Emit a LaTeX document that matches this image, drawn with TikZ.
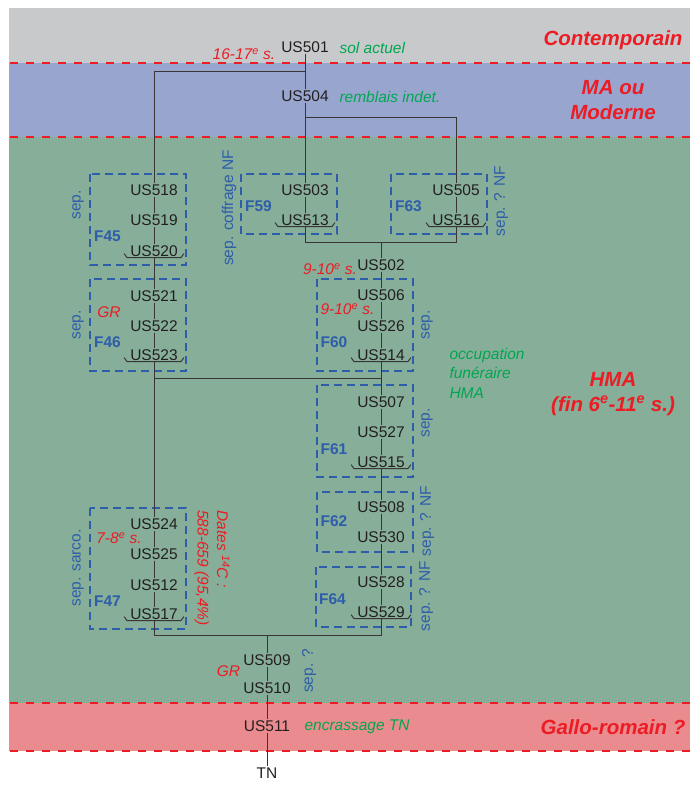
\documentclass[tikz,border=0pt]{standalone}
\usepackage{fontspec}
\setmainfont{Liberation Sans}
\usepackage{tikz}
\usetikzlibrary{positioning}
\definecolor{bandgrey}{HTML}{C8C9CB}
\definecolor{bandblue}{HTML}{98A6CF}
\definecolor{bandgreen}{HTML}{86AE99}
\definecolor{bandpink}{HTML}{EA8C8F}
\definecolor{datered}{HTML}{EC1C24}
\definecolor{notegreen}{HTML}{00A651}
\definecolor{sepblue}{HTML}{2E5DAA}
\definecolor{usblack}{HTML}{231F20}
\colorlet{linkgrey}{usblack!90}
\newcommand\txt{\fontsize{15.5}{19.5}\selectfont}
\newcommand\eratxt{\fontsize{20.5}{24.5}\selectfont}
% base of a filling, drawn under the last US of a fill
\newcommand\fondUS[1]{%
  \draw[link] ([xshift=-5pt,yshift=4pt]#1.south west) -- ([xshift=-2pt]#1.south west)
    -- ([xshift=2pt]#1.south east) -- ([xshift=5pt,yshift=4pt]#1.south east);}

\begin{document}
\begin{tikzpicture}[x=1pt, y=-1pt,
    us/.style={font=\txt, text=usblack, inner sep=1pt},
    feat/.style={font=\txt\bfseries, text=sepblue},
    sepnote/.style={font=\txt, text=sepblue, rotate=90},
    datenote/.style={font=\txt\itshape, text=datered, inner sep=0.5pt},
    obs/.style={font=\txt\itshape, text=notegreen},
    era/.style={font=\eratxt\bfseries\itshape, text=datered, align=center},
    fossa/.style={draw=sepblue, line width=1.1pt, dash pattern=on 8pt off 5pt},
    limit/.style={draw=datered, line width=2.6pt, dash pattern=on 8pt off 8pt},
    link/.style={draw=linkgrey, line width=1pt}]

    \useasboundingbox (0,0) rectangle (690,785);

    % Phases
    \fill[bandgrey] (9,8) rectangle (690,63);
    \fill[bandblue] (9,63) rectangle (690,137);
    \fill[bandgreen] (9,137) rectangle (690,703);
    \fill[bandpink] (9,703) rectangle (690,751);
    \foreach \y in {63, 137, 703, 751} {
      \draw[limit] (10,\y) -- (690,\y);
    }

    \node[era] (contemp) at (613,40) {Contemporain};
    \node[era] (moderne) at (613,100) {MA ou\\Moderne};
    \node[era] (hma) at (613,394) {HMA\\(fin 6\textsuperscript{e}-11\textsuperscript{e} s.)};
    \node[era] (gallo) at (613,727) {Gallo-romain ?};

    % Features (dashed boxes)
    \foreach \xa/\ya/\xb/\yb/\nm/\fx/\fy in {
        90/174/186/265/45/107.5/236, 90/279/186/371/46/107.5/342,
        241/174/337/234/59/258.5/206, 391/174/487/234/63/408.5/206,
        317/279/413/371/60/334/342, 317/385/413/477/61/334/449,
        317/492/413/552/62/334/521, 316/567/411/627/64/332.5/599,
        90/508/186/629/47/107.5/601} {
      \draw[fossa] (\xa,\ya) rectangle (\xb,\yb);
      \node[feat] (f\nm) at (\fx,\fy) {F\nm};
    }

    % Stratigraphic units
    \foreach \n/\x/\y in {501/305/47, 504/305/96, 503/305/190, 513/305/220,
        505/456/190, 516/456/220,
        518/154/190, 519/154/220, 520/154/251, 521/154/296, 522/154/326, 523/154/355,
        524/154/524, 525/154/554, 512/154/585, 517/154/614,
        502/381/265, 506/381/295, 526/381/326, 514/381/355,
        507/381/402, 527/381/432, 515/381/462, 508/381/507, 530/381/537,
        528/381/582, 529/381/612,
        509/267/660, 510/267/688, 511/267/726} {
      \node[us] (us\n) at (\x,\y) {US\n};
    }
    \node[us] (tn) at (267,773) {TN};

    \foreach \n in {513, 516, 520, 523, 514, 515, 529, 517} {
      \fondUS{us\n}
    }

    % Relations
    \foreach \a/\b in {501/504, 504/503, 503/513, 505/516,
        518/519, 519/520, 520/521, 521/522, 522/523, 523/524,
        524/525, 525/512, 512/517,
        502/506, 506/526, 526/514, 514/507, 507/527, 527/515,
        515/508, 508/530, 530/528, 528/529,
        509/510, 510/511} {
      \draw[link] (us\a) -- (us\b);
    }
    \draw[link] (us511) -- (tn);

    \coordinate (j501) at (305,71);
    \coordinate (j504) at (305,117);
    \coordinate (b63) at (456,242);
    \coordinate (j502) at (381,242);
    \coordinate (j514) at (381,378);
    \coordinate (b64) at (381,635);
    \coordinate (j509) at (267,635);

    \draw[link] (j501) -| (us518);
    \draw[link] (j504) -| (us505);
    \draw[link] (us513) |- (b63) -- (us516);
    \draw[link] (j502) -- (us502);
    \draw[link] (j514) -| (us524);
    \draw[link] (us517) |- (b64) -- (us529);
    \draw[link] (j509) -- (us509);

    % Datings
    \node[datenote] (d501) at (244,54) {16-17\textsuperscript{e} s.};
    \node[datenote] (d502) at (330,269) {9-10\textsuperscript{e} s.};
    \node[datenote] (d506) at (347.5,309) {9-10\textsuperscript{e} s.};
    \node[datenote] (gr46) at (109,312) {GR};
    \node[datenote] (d524) at (119,538) {7-8\textsuperscript{e} s.};
    \node[datenote] (gr509) at (228.5,671) {GR};
    \node[datenote, rotate=-90, align=left] (c14) at (212,568)
      {Dates \textsuperscript{14}C :\\588-659 (95,4\%)};

    % Interpretations
    \node[obs, anchor=west] (o501) at (336,48) {sol actuel};
    \node[obs, anchor=west] (o504) at (336,97) {remblais indet.};
    \node[obs, anchor=west, align=left] (o514) at (446,373)
      {occupation\\funéraire\\HMA};
    \node[obs, anchor=west] (o511) at (301,727) {encrassage TN};

    % Separations
    \node[sepnote] (s45) at (78,205) {sep.};
    \node[sepnote] (s46) at (78,325) {sep.};
    \node[sepnote] (s59) at (229,208) {sep. coffrage NF};
    \node[sepnote] (s63) at (501,201) {sep. ? NF};
    \node[sepnote] (s60) at (427,325) {sep.};
    \node[sepnote] (s61) at (427,423) {sep.};
    \node[sepnote] (s62) at (427,521) {sep. ? NF};
    \node[sepnote] (s64) at (426,596) {sep. ? NF};
    \node[sepnote] (s47) at (78,568) {sep. sarco.};
    \node[sepnote] (s509) at (309,671) {sep. ?};

\end{tikzpicture}
\end{document}
